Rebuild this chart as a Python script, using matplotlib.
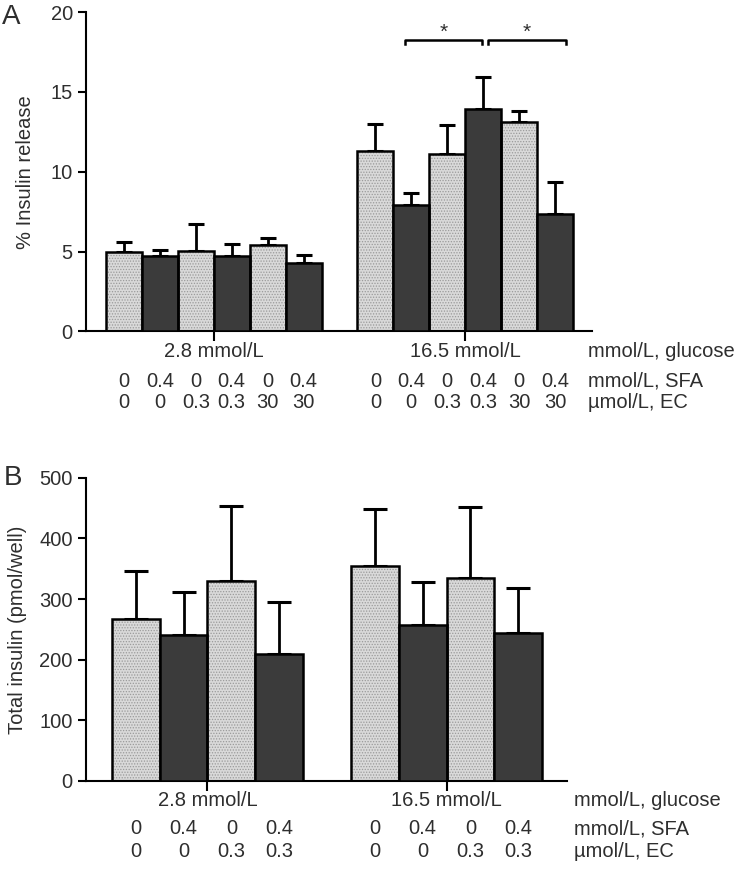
import numpy as np
import matplotlib.pyplot as plt
from matplotlib import transforms

plt.rcParams['font.family'] = ['Liberation Sans', 'DejaVu Sans']
plt.rcParams['hatch.linewidth'] = 0.6

# panel A: % insulin release
a_groups = ['2.8 mmol/L', '16.5 mmol/L']
a_sfa = ['0', '0.4', '0', '0.4', '0', '0.4']
a_ec = ['0', '0', '0.3', '0.3', '30', '30']
a_mean = [5.0, 4.75, 5.05, 4.75, 5.4, 4.3,
          11.3, 7.95, 11.1, 13.95, 13.1, 7.35]
a_err = [0.6, 0.35, 1.7, 0.7, 0.45, 0.5,
         1.7, 0.7, 1.85, 2.0, 0.7, 2.0]

# panel B: total insulin
b_groups = ['2.8 mmol/L', '16.5 mmol/L']
b_sfa = ['0', '0.4', '0', '0.4']
b_ec = ['0', '0', '0.3', '0.3']
b_mean = [267, 240, 330, 209, 355, 257, 335, 244]
b_err = [79, 71, 124, 86, 93, 71, 117, 74]

light = '#d9d9d9'
dark = '#3b3b3b'
txt = '#2e2e2e'
fs = 14.5

fig = plt.figure(figsize=(7.4, 8.75), dpi=100)


def draw_panel(ax, means, errs, n, gap, groups, sfa, ec, capsize, rows_y, lab_x):
    x = np.concatenate([np.arange(n), np.arange(n) + gap])
    colors = [light if i % 2 == 0 else dark for i in range(2 * n)]
    ax.errorbar(x, means, yerr=[np.zeros(len(errs)), errs], fmt='none',
                ecolor='black', elinewidth=2, capsize=capsize, capthick=2.2, zorder=1)
    for xi, m, c in zip(x, means, colors):
        if c == light:
            ax.bar(xi, m, width=1.0, color=light, hatch='......',
                   edgecolor='#9a9a9a', linewidth=0, zorder=2)
            ax.bar(xi, m, width=1.0, fill=False, edgecolor='black',
                   linewidth=1.8, zorder=3)
        else:
            ax.bar(xi, m, width=1.0, color=dark, edgecolor='black',
                   linewidth=1.8, zorder=3)
    for s in ['top', 'right']:
        ax.spines[s].set_visible(False)
    ax.spines['left'].set_linewidth(1.5)
    ax.spines['bottom'].set_linewidth(1.5)
    centers = [(n - 1) / 2, gap + (n - 1) / 2]
    ax.set_xticks(centers)
    ax.set_xticklabels([])
    ax.tick_params(axis='x', length=7, width=1.5, direction='out')
    ax.tick_params(axis='y', length=6, width=1.5, labelsize=fs, labelcolor=txt)
    tr = ax.get_xaxis_transform()
    for c, g in zip(centers, groups):
        ax.text(c, rows_y[0], g, transform=tr, ha='center', va='center',
                fontsize=fs, color=txt, clip_on=False)
    for xi, s, e in zip(x, sfa + sfa, ec + ec):
        ax.text(xi, rows_y[1], s, transform=tr, ha='center', va='center',
                fontsize=fs, color=txt, clip_on=False)
        ax.text(xi, rows_y[2], e, transform=tr, ha='center', va='center',
                fontsize=fs, color=txt, clip_on=False)
    tr2 = transforms.blended_transform_factory(fig.transFigure, ax.transAxes)
    for y, t in zip(rows_y, ['mmol/L, glucose', 'mmol/L, SFA', 'µmol/L, EC']):
        ax.text(lab_x, y, t, transform=tr2, ha='left', va='center',
                fontsize=fs, color=txt, clip_on=False)
    return x


axA = fig.add_axes([86 / 740, 1 - 331.5 / 875, 506 / 740, 319.4 / 875])
xa = draw_panel(axA, a_mean, a_err, 6, 7, a_groups, a_sfa, a_ec, 6,
                [-0.064, -0.155, -0.221], 588 / 740)
axA.set_ylim(0, 20)
axA.set_yticks([0, 5, 10, 15, 20])
axA.set_xlim(-1.056, 13.03)
axA.set_ylabel('% Insulin release', fontsize=fs, color=txt)
axA.yaxis.set_label_coords(-0.1, 0.5)

# significance brackets
for x0, x1 in [(7.83, 9.97), (10.14, 12.3)]:
    axA.plot([x0, x0, x1, x1], [18.0, 18.27, 18.27, 18.0], color='black',
             lw=1.8, clip_on=False)
    axA.text((x0 + x1) / 2, 18.75, '*', ha='center', va='center',
             fontsize=15, color=txt)

axB = fig.add_axes([86 / 740, 1 - 781 / 875, 481 / 740, 303.3 / 875])
xb = draw_panel(axB, b_mean, b_err, 4, 5, b_groups, b_sfa, b_ec, 8.5,
                [-0.063, -0.158, -0.231], 574 / 740)
axB.set_ylim(0, 500)
axB.set_yticks([0, 100, 200, 300, 400, 500])
axB.set_xlim(-1.04, 9.02)
axB.set_ylabel('Total insulin (pmol/well)', fontsize=fs, color=txt)
axB.yaxis.set_label_coords(-0.123, 0.5)

fig.text(2 / 740, 1 - 17 / 875, 'A', fontsize=20, color=txt, va='center', ha='left')
fig.text(4 / 740, 1 - 478 / 875, 'B', fontsize=20, color=txt, va='center', ha='left')

fig.savefig('out.png', dpi=100)
